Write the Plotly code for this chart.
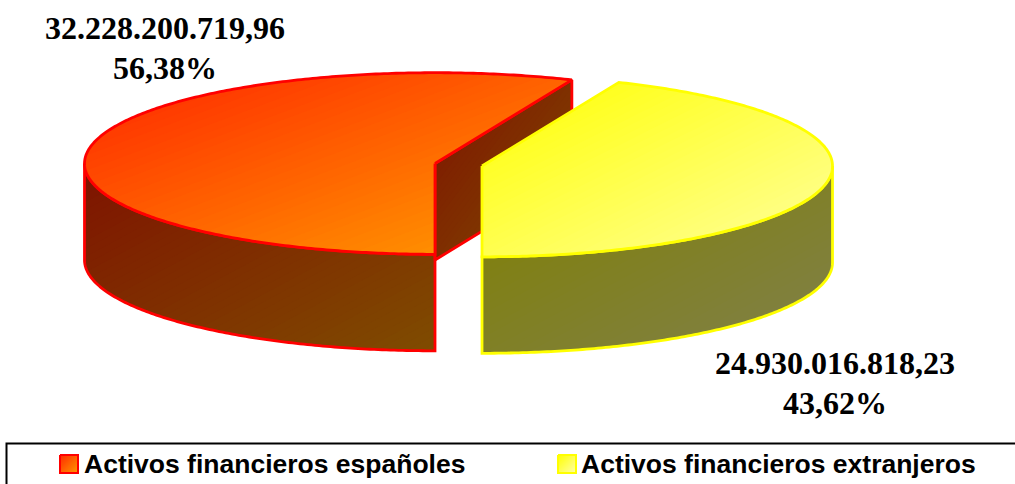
import math
import plotly.graph_objects as go

# ---- data ----
categories = ["Activos financieros españoles", "Activos financieros extranjeros"]
values = [32228200719.96, 24930016818.23]

# ---- styles ----
outline = ["#ff0000", "#ffff00"]
top_colors = [("#ff2400", "#ffa000"), ("#ffff00", "#ffffa0")]
side_colors = [("#7f1200", "#7f4c00"), ("#808000", "#80804c")]
inner_colors = ("#7f1200", "#7f4c00")
swatch_colors = [("#ff2a00", "#ff9900"), ("#ffff00", "#ffffa8")]

W, H = 1015, 484
centers = [(435, 163.5), (482, 166)]
RX, RY, DEPTH = 350.5, 90.8, 96.5
START = -90.0
BANDS = 48

fig = go.Figure()


def hex_rgb(c):
    return tuple(int(c[i:i + 2], 16) for i in (1, 3, 5))


def clip(poly, f, level):
    out = []
    n = len(poly)
    for i in range(n):
        p, q = poly[i], poly[(i + 1) % n]
        fp, fq = f(p), f(q)
        if fp >= level:
            out.append(p)
        if (fp >= level) != (fq >= level):
            r = (level - fp) / (fq - fp)
            out.append((p[0] + r * (q[0] - p[0]), p[1] + r * (q[1] - p[1])))
    return out


def face(poly, colors, line_color, line_w=2.8):
    xs = [p[0] for p in poly]
    ys = [p[1] for p in poly]
    x0, x1 = min(xs), max(xs)
    y0, y1 = min(ys), max(ys)
    f = lambda p: ((p[0] - x0) / (x1 - x0) + (p[1] - y0) / (y1 - y0)) / 2
    a, b = hex_rgb(colors[0]), hex_rgb(colors[1])
    for i in range(BANDS):
        lv = i / BANDS
        sub = poly if i == 0 else clip(poly, f, lv)
        if len(sub) < 3:
            continue
        tt = (i + 0.5) / BANDS
        col = "rgb(%d,%d,%d)" % tuple(round(a[k] + (b[k] - a[k]) * tt) for k in range(3))
        fig.add_trace(go.Scatter(
            x=[p[0] for p in sub] + [sub[0][0]], y=[p[1] for p in sub] + [sub[0][1]],
            mode="lines", fill="toself", fillcolor=col, line=dict(width=0, color=col, simplify=False),
            hoverinfo="skip", showlegend=False))
    fig.add_trace(go.Scatter(
        x=xs + [xs[0]], y=ys + [ys[0]], mode="lines",
        line=dict(color=line_color, width=line_w, simplify=False), hoverinfo="skip", showlegend=False))


def pt(c, t, dz=0.0):
    r = math.radians(t)
    return (c[0] + RX * math.cos(r), c[1] - RY * math.sin(r) + dz)


def arc(c, t0, t1, dz=0.0):
    n = max(2, int(abs(t1 - t0) * 1.5))
    return [pt(c, t0 + (t1 - t0) * i / n, dz) for i in range(n + 1)]


total = sum(values)
sweeps = [v / total * 360 for v in values]
t_red_end = START - sweeps[0]
t_yel_end = t_red_end - sweeps[1]

# red slice
c = centers[0]
side = arc(c, -180, START)
face(side + [pt(c, START, DEPTH)] + arc(c, START, -180, DEPTH)[1:], side_colors[0], outline[0])
e = pt(c, t_red_end)
face([c, e, (e[0], e[1] + DEPTH), (c[0], c[1] + DEPTH)], inner_colors, outline[0])
face([c] + arc(c, START, t_red_end), top_colors[0], outline[0])

# yellow slice
c = centers[1]
side = arc(c, -360, t_yel_end)
face(side + arc(c, t_yel_end, -360, DEPTH), side_colors[1], outline[1])
face([c] + arc(c, t_red_end, t_yel_end), top_colors[1], outline[1])

# legend swatches
sw_x = [60, 558]
for i in range(2):
    x, y = sw_x[i], 455
    sq = [(x, y), (x + 18, y), (x + 18, y + 18), (x, y + 18)]
    face(sq, swatch_colors[i], outline[i], 2)


def es(v):
    return f"{v:,.2f}".replace(",", "#").replace(".", ",").replace("#", ".")


label_x = [165, 835]
label_y = [(28, 68), (363, 403)]
for i, v in enumerate(values):
    pct = f"{v / total * 100:.2f}".replace(".", ",") + "%"
    for txt, y in zip((es(v), pct), label_y[i]):
        fig.add_annotation(
            x=label_x[i], y=y, text=f"<b>{txt}</b>", showarrow=False,
            xanchor="center", yanchor="middle",
            font=dict(family="Liberation Serif", size=32, color="black"))

legend_x = [84, 581]
for i, name in enumerate(categories):
    fig.add_annotation(
        x=legend_x[i], y=464, text=f"<b>{name}</b>", showarrow=False, xanchor="left", yanchor="middle",
        xshift=-2, font=dict(family="Liberation Sans", size=26.5, color="black"))

fig.update_layout(
    width=W, height=H, margin=dict(l=0, r=0, t=0, b=0), plot_bgcolor="white", paper_bgcolor="white",
    xaxis=dict(range=[0, W], visible=False, fixedrange=True),
    yaxis=dict(range=[H, 0], visible=False, fixedrange=True),
    showlegend=False,
    shapes=[dict(type="rect", xref="x", yref="y", x0=6.5, x1=W + 10, y0=443.5, y1=H + 10,
                 line=dict(color="black", width=2), layer="below")],
)
fig.write_html("out.html", config=dict(displayModeBar=False),
               post_script="document.body.style.margin='0';document.body.style.overflow='hidden';")
